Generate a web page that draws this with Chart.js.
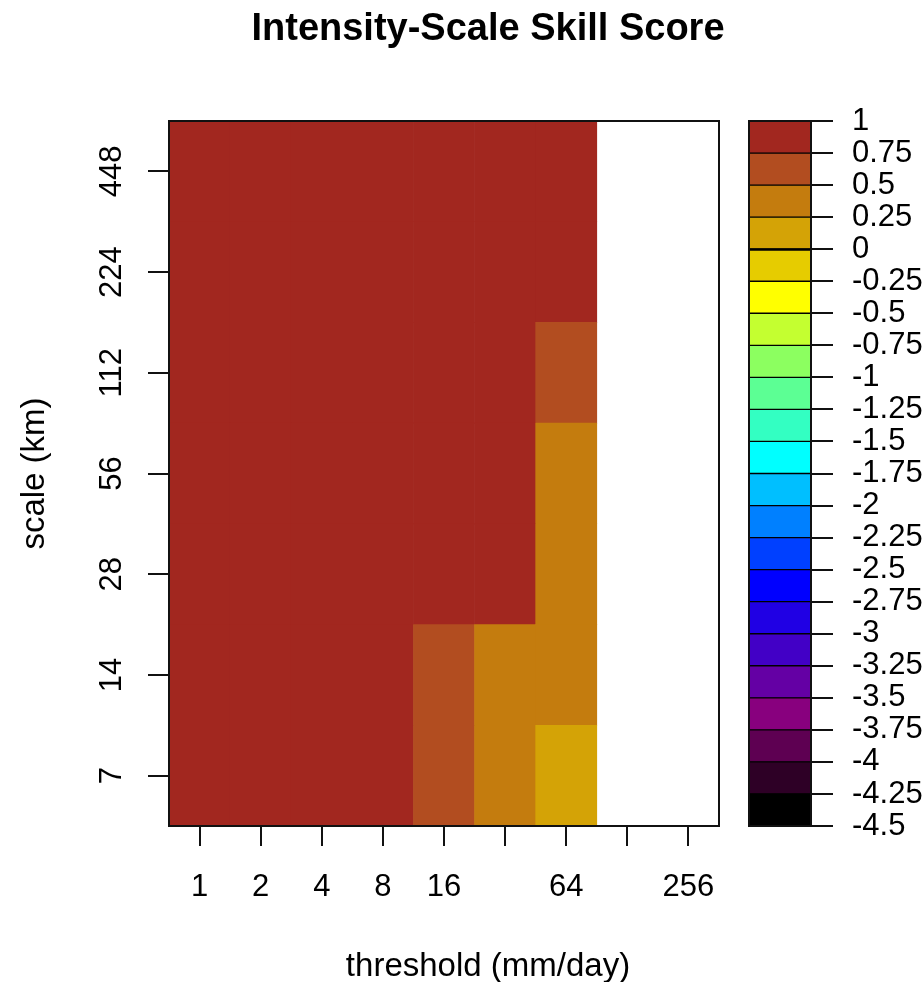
<!DOCTYPE html>
<html>
<head>
<meta charset="utf-8">
<title>Intensity-Scale Skill Score</title>
<script src="https://cdn.jsdelivr.net/npm/chart.js@4.4.1/dist/chart.umd.min.js"></script>
<style>
  html, body { margin: 0; padding: 0; background: #fff; }
  #wrap { position: relative; width: 924px; height: 982px; }
  #main { position: absolute; left: 0; top: 0; }
  #legend { position: absolute; left: 700px; top: 0; }
</style>
</head>
<body>
<div id="wrap">
  <canvas id="main" width="924" height="982"></canvas>
  <canvas id="legend" width="224" height="982"></canvas>
</div>
<script>
const thresholds = ['1', '2', '4', '8', '16', '32', '64', '128', '256'];
const shownThresholds = ['1', '2', '4', '8', '16', '64', '256'];
const scales = ['7', '14', '28', '56', '112', '224', '448'];

// skill score per threshold, one array per spatial scale (null = no data)
const iss7   = [0.95, 0.96, 0.96, 0.97, 0.62, 0.42, 0.16, null, null];
const iss14  = [0.97, 0.97, 0.98, 0.98, 0.66, 0.46, 0.36, null, null];
const iss28  = [0.98, 0.98, 0.98, 0.99, 0.86, 0.80, 0.41, null, null];
const iss56  = [0.99, 0.99, 0.99, 0.99, 0.91, 0.86, 0.46, null, null];
const iss112 = [0.99, 0.99, 0.99, 0.99, 0.94, 0.90, 0.61, null, null];
const iss224 = [1.00, 1.00, 1.00, 1.00, 0.96, 0.94, 0.80, null, null];
const iss448 = [1.00, 1.00, 1.00, 1.00, 0.98, 0.97, 0.89, null, null];
const issRows = [iss7, iss14, iss28, iss56, iss112, iss224, iss448];

// colour key: break points and the colour of each interval (low to high)
const breaks = [-4.5, -4.25, -4, -3.75, -3.5, -3.25, -3, -2.75, -2.5, -2.25, -2, -1.75,
  -1.5, -1.25, -1, -0.75, -0.5, -0.25, 0, 0.25, 0.5, 0.75, 1];
const binColors = ['#000000', '#2e0026', '#5e0052', '#88007e', '#6400a4', '#4200c6', '#2000e4',
  '#0000ff', '#0040ff', '#0080ff', '#00bfff', '#00ffff', '#33ffc2', '#5cff94', '#8cff60',
  '#c4ff30', '#ffff00', '#e6cc00', '#d4a306', '#c47c0e', '#b24d20', '#a2271f'];

const font = "'Liberation Sans', Arial, sans-serif";
Chart.defaults.font.family = font;
Chart.defaults.color = '#000';

function binColor(v) {
  for (let i = 0; i < binColors.length; i++) {
    if (v < breaks[i + 1]) return binColors[i];
  }
  return binColors[binColors.length - 1];
}

const frame = {
  id: 'frame',
  afterDraw(chart) {
    const { ctx, chartArea: a } = chart;
    ctx.save();
    ctx.strokeStyle = '#111';
    ctx.lineWidth = 2;
    ctx.strokeRect(a.left, a.top, a.right - a.left, a.bottom - a.top);
    ctx.restore();
  }
};

// dark backdrop so the thin seams between key boxes read as separator lines
const keyBackdrop = {
  id: 'keyBackdrop',
  beforeDatasetsDraw(chart) {
    const { ctx, chartArea: a } = chart;
    ctx.save();
    ctx.fillStyle = '#000';
    ctx.fillRect(a.left, a.top, a.right - a.left, a.bottom - a.top);
    ctx.restore();
  }
};

const titles = {
  id: 'titles',
  afterDraw(chart) {
    const ctx = chart.ctx;
    ctx.save();
    ctx.fillStyle = '#000';
    ctx.textAlign = 'center';
    ctx.font = 'bold 38px ' + font;
    ctx.fillText('Intensity-Scale Skill Score', 488, 40);
    ctx.font = '33px ' + font;
    ctx.fillText('threshold (mm/day)', 488, 976);
    ctx.translate(35, 473.5);
    ctx.rotate(-Math.PI / 2);
    ctx.textBaseline = 'middle';
    ctx.fillText('scale (km)', 0, 0);
    ctx.restore();
  }
};

new Chart(document.getElementById('main'), {
  type: 'bar',
  data: {
    labels: thresholds,
    datasets: issRows.map((row, r) => ({
      label: scales[r] + ' km',
      data: row.map((v) => (v === null ? null : [r, r + 1])),
      backgroundColor: row.map((v) => (v === null ? 'rgba(0,0,0,0)' : binColor(v))),
      borderWidth: 0,
      grouped: false,
      categoryPercentage: 1,
      barPercentage: 1
    }))
  },
  options: {
    responsive: false,
    animation: false,
    layout: { padding: { top: 121, right: 205, bottom: 0, left: 0 } },
    plugins: { legend: { display: false }, tooltip: { enabled: false } },
    scales: {
      x: {
        grid: { offset: false, drawOnChartArea: false, tickLength: 20, color: '#111', lineWidth: 2 },
        border: { display: false },
        ticks: {
          autoSkip: false,
          maxRotation: 0,
          padding: 23,
          font: { size: 31 },
          callback: (v, i) => (shownThresholds.includes(thresholds[i]) ? thresholds[i] : '')
        },
        afterFit: (axis) => { axis.height = 156; }
      },
      y: {
        min: 0,
        max: scales.length,
        grid: { drawOnChartArea: false, tickLength: 21, color: '#111', lineWidth: 2 },
        border: { display: false },
        ticks: {
          autoSkip: false,
          minRotation: 90,
          maxRotation: 90,
          crossAlign: 'center',
          padding: 10,
          font: { size: 31 },
          callback: (v, i) => scales[i]
        },
        afterBuildTicks: (axis) => { axis.ticks = scales.map((s, i) => ({ value: i + 0.5 })); },
        afterFit: (axis) => { axis.width = 169; }
      }
    }
  },
  plugins: [frame, titles]
});

new Chart(document.getElementById('legend'), {
  type: 'bar',
  data: {
    labels: ['ISS'],
    datasets: binColors.map((c, i) => ({
      data: [[breaks[i], breaks[i + 1]]],
      backgroundColor: c,
      borderColor: '#000',
      borderWidth: 1,
      borderSkipped: breaks[i] === 0 ? 'start' : false,
      grouped: false,
      categoryPercentage: 1,
      barPercentage: 1
    }))
  },
  options: {
    responsive: false,
    animation: false,
    layout: { padding: { top: 121, right: 0, bottom: 156, left: 49 } },
    plugins: { legend: { display: false }, tooltip: { enabled: false } },
    scales: {
      x: { display: false },
      y: {
        position: 'right',
        min: -4.5,
        max: 1,
        grid: { drawOnChartArea: false, tickLength: 22, color: '#111', lineWidth: 2 },
        border: { display: false },
        ticks: {
          autoSkip: false,
          padding: 19,
          font: { size: 31 },
          callback: (v) => String(v)
        },
        afterBuildTicks: (axis) => { axis.ticks = breaks.map((b) => ({ value: b })); },
        afterFit: (axis) => { axis.width = 113; }
      }
    }
  },
  plugins: [keyBackdrop, frame]
});
</script>
</body>
</html>
